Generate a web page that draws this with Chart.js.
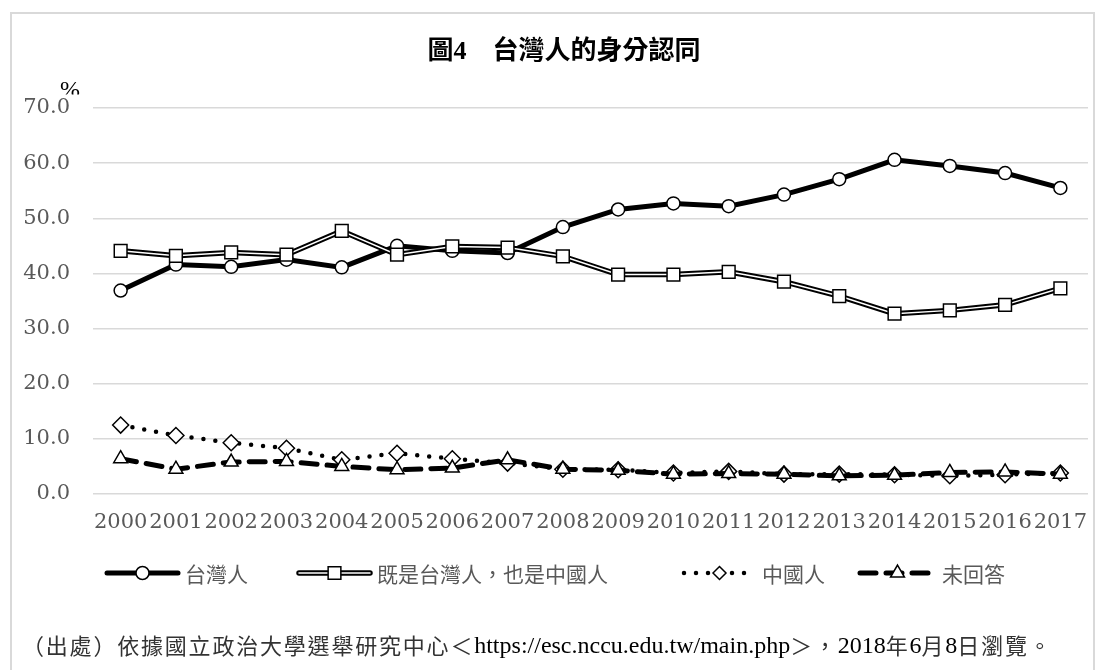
<!DOCTYPE html>
<html><head><meta charset="utf-8">
<script src="https://cdn.jsdelivr.net/npm/chart.js@4.4.1/dist/chart.umd.min.js"></script>
<style>html,body{margin:0;padding:0;background:#fff}#wrap{width:1105px;height:670px;position:relative}canvas{display:block}</style>
</head><body><div id="wrap"><canvas id="c" width="1105" height="670"></canvas></div>
<script>
const years = ['2000','2001','2002','2003','2004','2005','2006','2007','2008','2009','2010','2011','2012','2013','2014','2015','2016','2017'];
const taiwanese = [36.9, 41.6, 41.2, 42.5, 41.1, 45.0, 44.1, 43.7, 48.4, 51.6, 52.7, 52.2, 54.3, 57.1, 60.6, 59.5, 58.2, 55.5];
const both = [44.1, 43.2, 43.8, 43.4, 47.7, 43.4, 44.9, 44.7, 43.1, 39.8, 39.8, 40.3, 38.5, 35.9, 32.7, 33.3, 34.3, 37.3];
const chinese = [12.5, 10.6, 9.3, 8.3, 6.2, 7.4, 6.4, 5.6, 4.5, 4.4, 3.8, 4.1, 3.6, 3.6, 3.5, 3.3, 3.5, 3.8];
const noAnswer = [6.4, 4.5, 5.8, 5.9, 5.0, 4.4, 4.7, 6.2, 4.5, 4.3, 3.6, 3.7, 3.6, 3.3, 3.4, 3.9, 4.0, 3.6];
const seriesNames = ['台灣人', '既是台灣人，也是中國人', '中國人', '未回答'];
const yTicks = [0, 10, 20, 30, 40, 50, 60, 70];
const titleText = '圖4　台灣人的身分認同';
const unitText = '%';
const sourceText = '（出處）依據國立政治大學選舉研究中心＜https://esc.nccu.edu.tw/main.php＞，2018年6月8日瀏覽。';

const GRAY = '#595959';
const SERIF = "'DejaVu Serif', serif";
const CJK = "'Noto Sans CJK TC', 'Noto Sans CJK SC', sans-serif";

function marker(ctx, style, x, y, r) {
  ctx.save();
  ctx.fillStyle = '#fff'; ctx.strokeStyle = '#000'; ctx.lineWidth = 1.5; ctx.setLineDash([]);
  ctx.beginPath();
  if (style === 'circle') { ctx.arc(x, y, r, 0, Math.PI * 2); }
  else if (style === 'rect') { const s = Math.SQRT1_2 * r; ctx.rect(x - s, y - s, 2 * s, 2 * s); }
  else if (style === 'rectRot') { const s = r; ctx.moveTo(x - s, y); ctx.lineTo(x, y - s); ctx.lineTo(x + s, y); ctx.lineTo(x, y + s); ctx.closePath(); }
  else if (style === 'triangle') { const a = r * Math.sqrt(3) / 2; ctx.moveTo(x, y - r); ctx.lineTo(x + a, y + r / 2); ctx.lineTo(x - a, y + r / 2); ctx.closePath(); }
  ctx.fill(); ctx.stroke();
  ctx.restore();
}

const decor = {
  id: 'decor',
  beforeDraw(chart) {
    const ctx = chart.ctx;
    ctx.save();
    ctx.fillStyle = '#fff'; ctx.fillRect(0, 0, chart.width, chart.height);
    ctx.strokeStyle = '#d9d9d9'; ctx.lineWidth = 2;
    ctx.strokeRect(11, 13, 1083, 700);
    ctx.restore();
  },
  afterDraw(chart) {
    const ctx = chart.ctx;
    ctx.save();
    // title
    ctx.fillStyle = '#000';
    ctx.font = "bold 26px 'Liberation Serif', " + CJK;
    ctx.textAlign = 'center'; ctx.textBaseline = 'middle';
    ctx.fillText(titleText, 564, 52);
    // unit label (clipped at its bottom as in the original)
    ctx.save();
    ctx.beginPath(); ctx.rect(50, 70, 50, 24.5); ctx.clip();
    ctx.font = "24px 'Liberation Serif', serif";
    ctx.textAlign = 'left'; ctx.textBaseline = 'alphabetic';
    ctx.fillText(unitText, 60, 97);
    ctx.restore();
    // legend
    const ly = 573;
    const items = [
      {x0: 107, x1: 178, tx: 185, style: 'circle', r: 6.5},
      {x0: 299, x1: 370, tx: 377, style: 'rect', r: 9},
      {x0: 684, x1: 755, tx: 762, style: 'rectRot', r: 6.5},
      {x0: 860, x1: 935, tx: 942, style: 'triangle', r: 8}
    ];
    items.forEach((it, i) => {
      ctx.save();
      ctx.strokeStyle = '#000';
      ctx.beginPath(); ctx.moveTo(it.x0, ly); ctx.lineTo(it.x1, ly);
      if (i === 0) { ctx.lineWidth = 5; ctx.lineCap = 'round'; ctx.stroke(); }
      if (i === 1) { ctx.lineWidth = 5.5; ctx.lineCap = 'round'; ctx.stroke();
        ctx.strokeStyle = '#fff'; ctx.lineWidth = 1.5; ctx.beginPath(); ctx.moveTo(it.x0, ly); ctx.lineTo(it.x1, ly); ctx.stroke(); }
      if (i === 2) { ctx.lineWidth = 4.5; ctx.lineCap = 'round'; ctx.setLineDash([0, 12]); ctx.stroke(); }
      if (i === 3) { ctx.lineWidth = 5; ctx.lineCap = 'round'; ctx.setLineDash([16, 10]); ctx.stroke(); }
      ctx.restore();
      marker(ctx, it.style, (it.x0 + it.x1) / 2, ly, it.r);
      ctx.fillStyle = GRAY;
      ctx.font = '21px ' + CJK;
      ctx.textAlign = 'left'; ctx.textBaseline = 'middle';
      ctx.fillText(seriesNames[i], it.tx, ly + 1);
    });
    // source note: CJK runs spaced, Latin runs in a serif face
    ctx.textAlign = 'left'; ctx.textBaseline = 'middle';
    const runs = sourceText.match(/[\x00-\x7F]+|[^\x00-\x7F]+/g);
    let x = 22;
    runs.forEach(run => {
      if (/^[\x00-\x7F]+$/.test(run)) {
        ctx.fillStyle = '#000';
        ctx.font = "24px 'Liberation Serif', serif";
        ctx.letterSpacing = '0px';
        ctx.fillText(run, x, 647);
        x += ctx.measureText(run).width;
      } else {
        ctx.fillStyle = '#333';
        ctx.font = '22px ' + CJK;
        ctx.letterSpacing = '1.8px';
        ctx.fillText(run, x, 646);
        x += ctx.measureText(run).width;
      }
    });
    ctx.letterSpacing = '0px';
    ctx.restore();
  }
};

const pt = (style, r) => ({pointStyle: style, pointRadius: r, pointHoverRadius: r, pointBackgroundColor: '#fff', pointBorderColor: '#000', pointBorderWidth: 1.5});

new Chart(document.getElementById('c'), {
  type: 'line',
  data: {
    labels: years,
    datasets: [
      Object.assign({label: seriesNames[0], data: taiwanese, borderColor: '#000', borderWidth: 5, order: 5}, pt('circle', 6.5)),
      {label: seriesNames[1] + '_outline', data: both, borderColor: '#000', borderWidth: 5.5, pointRadius: 0, pointHoverRadius: 0, order: 4},
      Object.assign({label: seriesNames[1], data: both, borderColor: '#fff', borderWidth: 1.5, order: 3}, pt('rect', 9)),
      Object.assign({label: seriesNames[2], data: chinese, borderColor: '#000', borderWidth: 4.5, borderDash: [0, 12], borderCapStyle: 'round', order: 2}, pt('rectRot', 8)),
      Object.assign({label: seriesNames[3], data: noAnswer, borderColor: '#000', borderWidth: 5, borderDash: [16, 10], borderCapStyle: 'round', order: 1}, pt('triangle', 8))
    ]
  },
  options: {
    responsive: false,
    animation: false,
    devicePixelRatio: 1,
    layout: {padding: {top: 108, right: 17, left: 0, bottom: 116}},
    elements: {line: {tension: 0}},
    plugins: {legend: {display: false}, title: {display: false}, tooltip: {enabled: false}},
    scales: {
      x: {
        offset: true,
        grid: {display: false, drawTicks: false},
        border: {display: false},
        ticks: {color: GRAY, font: {family: SERIF, size: 21}, maxRotation: 0, minRotation: 0, autoSkip: false, padding: 16},
        afterFit: s => { s.height = 60; }
      },
      y: {
        min: 0, max: 70,
        afterBuildTicks: s => { s.ticks = yTicks.map(v => ({value: v})); },
        grid: {color: '#d9d9d9', lineWidth: 1.5, drawTicks: false},
        border: {display: false},
        ticks: {color: GRAY, font: {family: SERIF, size: 21}, padding: 23, callback: v => Number(v).toFixed(1)},
        afterFit: s => { s.width = 93; }
      }
    }
  },
  plugins: [decor]
});
</script>
</body></html>
